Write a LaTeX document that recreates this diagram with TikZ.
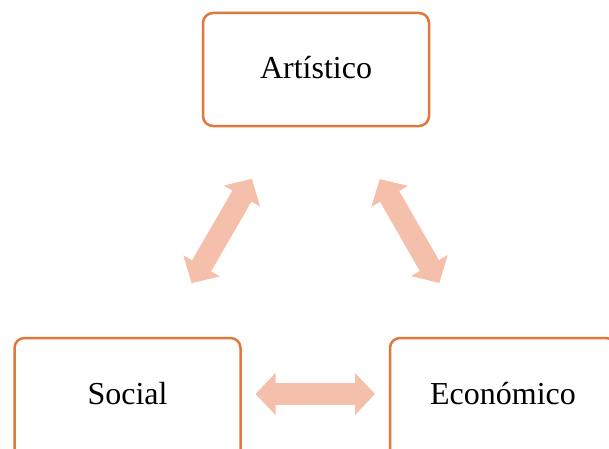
\documentclass[tikz,border=0pt]{standalone}
\usepackage{fontspec}
\setmainfont{Liberation Serif}
\usetikzlibrary{arrows.meta}
\definecolor{borde}{HTML}{E0783A}
\definecolor{relleno}{HTML}{F4BFAB}
\tikzset{
	caja/.style={draw=borde, line width=2.5pt, rounded corners=10pt, fill=white,
		minimum width=226pt, inner sep=0pt, anchor=base,
		text height=65pt, text depth=48pt,
		font=\fontsize{32}{38}\selectfont},
	flecha/.style={draw=relleno, line width=22pt,
		{Triangle[width=41pt,length=20pt,fill=relleno]}-{Triangle[width=41pt,length=20pt,fill=relleno]},
		shorten <=128pt, shorten >=128pt}
}
\begin{document}
\begin{tikzpicture}[x=1pt, y=1pt]
		\useasboundingbox (0, 0) rectangle (609, 448);
		\clip (0, 0) rectangle (609, 448);
		\node[caja] (art) at (316, 370) {Artístico};
		\node[caja, text height=66pt, text depth=60pt] (soc) at (127.5, 44) {Social};
		\node[caja, text height=66pt, text depth=60pt] (eco) at (503, 44) {Económico};
		\foreach \a/\b in {art/soc, art/eco, soc/eco}
			\draw[flecha] ([yshift=10pt]\a.base) -- ([yshift=10pt]\b.base);
	\end{tikzpicture}
\end{document}
